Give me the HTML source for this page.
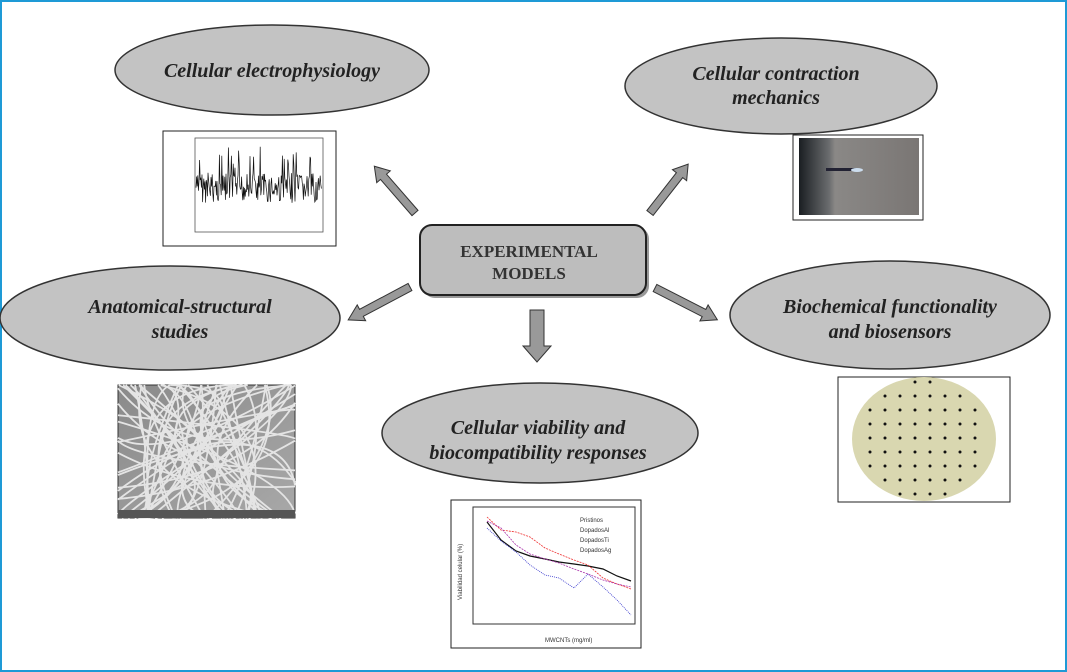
<!DOCTYPE html>
<html><head><meta charset="utf-8"><style>
html,body{margin:0;padding:0;background:#fff}
svg{display:block}
.e{font-family:"Liberation Serif",serif;font-style:italic;font-weight:bold;font-size:20px;fill:#222;text-anchor:middle}
</style></head><body>
<svg id="s" width="1067" height="672" viewBox="0 0 1067 672" xmlns="http://www.w3.org/2000/svg">
<rect x="1" y="1" width="1065" height="670" fill="#fff" stroke="#1e9ad6" stroke-width="2"/>
<defs>
<linearGradient id="sem" x1="0" y1="0" x2="1" y2="1"><stop offset="0" stop-color="#8a8a8a"/><stop offset="1" stop-color="#a8a8a8"/></linearGradient>
<linearGradient id="ph" x1="0" y1="0" x2="1" y2="0"><stop offset="0" stop-color="#1a1e22"/><stop offset="0.25" stop-color="#6a6c6e"/><stop offset="0.3" stop-color="#8a8886"/><stop offset="1" stop-color="#7a7674"/></linearGradient>
</defs>
<g fill="#c3c3c3" stroke="#333" stroke-width="1.5">
<ellipse cx="272" cy="70" rx="157" ry="45"/>
<ellipse cx="781" cy="86" rx="156" ry="48"/>
<ellipse cx="170" cy="318" rx="170" ry="52"/>
<ellipse cx="890" cy="315" rx="160" ry="54"/>
<ellipse cx="540" cy="433" rx="158" ry="50"/>
</g>
<text class="e" x="272" y="77">Cellular electrophysiology</text>
<text class="e" x="776" y="80">Cellular contraction</text>
<text class="e" x="776" y="104">mechanics</text>
<text class="e" x="180" y="313">Anatomical-structural</text>
<text class="e" x="180" y="338">studies</text>
<text class="e" x="890" y="313">Biochemical functionality</text>
<text class="e" x="890" y="338">and biosensors</text>
<text class="e" x="538" y="434">Cellular viability and</text>
<text class="e" x="538" y="459">biocompatibility responses</text>
<rect x="423" y="227" width="226" height="71" rx="12" fill="#333" opacity="0.5"/>
<rect x="420" y="225" width="226" height="70" rx="12" fill="#bdbdbd" stroke="#222" stroke-width="2"/>
<text x="529" y="257" font-family="Liberation Serif,serif" font-weight="bold" font-size="17" fill="#333" text-anchor="middle">EXPERIMENTAL</text>
<text x="529" y="279" font-family="Liberation Serif,serif" font-weight="bold" font-size="17" fill="#333" text-anchor="middle">MODELS</text>
<g fill="#999" stroke="#333" stroke-width="1">
<polygon points="530,310 544,310 544,346 551,346 537,362 523,346 530,346"/>
<g transform="translate(655,288) rotate(27)"><polygon points="0,-4 55,-4 55,-9 70,0 55,9 55,4 0,4"/></g>
<g transform="translate(410,287) rotate(152)"><polygon points="0,-4 55,-4 55,-9 70,0 55,9 55,4 0,4"/></g>
<g transform="translate(415,213) rotate(-131)"><polygon points="0,-4 48,-4 48,-9 62,0 48,9 48,4 0,4"/></g>
<g transform="translate(650,213) rotate(-52)"><polygon points="0,-4 48,-4 48,-9 62,0 48,9 48,4 0,4"/></g>
</g>
<rect x="163" y="131" width="173" height="115" fill="#fff" stroke="#222"/>
<rect x="195" y="138" width="128" height="94" fill="#fff" stroke="#555" stroke-width="0.8"/>
<polyline id="eph" fill="none" stroke="#111" stroke-width="0.7" points=""/>
<rect x="793" y="135" width="130" height="85" fill="#fff" stroke="#222"/>
<rect x="799" y="138" width="120" height="77" fill="url(#ph)"/>
<rect x="826" y="168" width="30" height="3" fill="#223" /><ellipse cx="857" cy="170" rx="6" ry="2" fill="#cde"/>
<rect x="118" y="385" width="177" height="133" fill="url(#sem)" stroke="#333"/>
<g id="fib" stroke="#e4e4e4" fill="none" stroke-width="1.8"></g>
<rect x="118" y="510" width="177" height="8" fill="#555"/>
<rect x="838" y="377" width="172" height="125" fill="#fff" stroke="#222"/>
<ellipse cx="924" cy="439" rx="72" ry="62" fill="#d9d7b0"/>
<g id="dots" fill="#111"></g>
<rect x="451" y="500" width="190" height="148" fill="#fff" stroke="#222"/>
<rect x="473" y="507" width="162" height="117" fill="none" stroke="#333"/>
<g font-family="Liberation Sans,sans-serif" font-size="6" fill="#333">
<text x="545" y="642">MWCNTs (mg/ml)</text>
<text x="462" y="600" transform="rotate(-90 462 600)">Viabilidad celular (%)</text>
<text x="580" y="522">Pristinos</text><text x="580" y="532">DopadosAl</text><text x="580" y="542">DopadosTi</text><text x="580" y="552">DopadosAg</text>
</g>
<polyline fill="none" stroke="#111" stroke-width="1.2" points="487,522 501,540 516,551 530,556 545,559 559,562 574,564 588,566 603,569 617,576 631,581"/>
<polyline fill="none" stroke="#e33" stroke-width="0.8" stroke-dasharray="2,1" points="487,517 501,530 516,532 530,537 545,548 559,554 574,560 588,565 603,578 617,584 631,589"/>
<polyline fill="none" stroke="#33c" stroke-width="0.8" stroke-dasharray="1,1" points="487,528 501,541 516,552 530,565 545,575 559,578 574,588 588,574 603,587 617,600 631,615"/>
<polyline fill="none" stroke="#a3a" stroke-width="0.8" stroke-dasharray="2,1" points="487,521 501,528 516,545 530,554 545,559 559,563 574,569 588,574 603,580 617,584 631,587"/>
</svg>
<script>
var pts=[],s=7;function r(){s=(s*9301+49297)%233280;return s/233280}
for(var x=196;x<322;x+=0.6){var v=188+(r()-0.5)*30;if(r()<0.08)v=145+r()*30;pts.push(x.toFixed(1)+","+v.toFixed(1))}
document.getElementById('eph').setAttribute('points',pts.join(' '));
var f='';for(var i=0;i<45;i++){f+='<path d="M'+(118+r()*177)+' 385 Q'+(118+r()*177)+' '+(385+r()*133)+' '+(118+r()*177)+' 518"/>'}
for(var i=0;i<15;i++){f+='<path d="M118 '+(385+r()*133)+' Q'+(118+r()*177)+' '+(385+r()*133)+' 295 '+(385+r()*133)+'"/>'}
document.getElementById('fib').innerHTML=f;
var d='';for(var y=382;y<500;y+=14)for(var x=870;x<990;x+=15){var dx=(x-924)/72,dy=(y-439)/62;if(dx*dx+dy*dy<0.9)d+='<circle cx="'+x+'" cy="'+y+'" r="1.5"/>'}
document.getElementById('dots').innerHTML=d;
</script>
</body></html>
